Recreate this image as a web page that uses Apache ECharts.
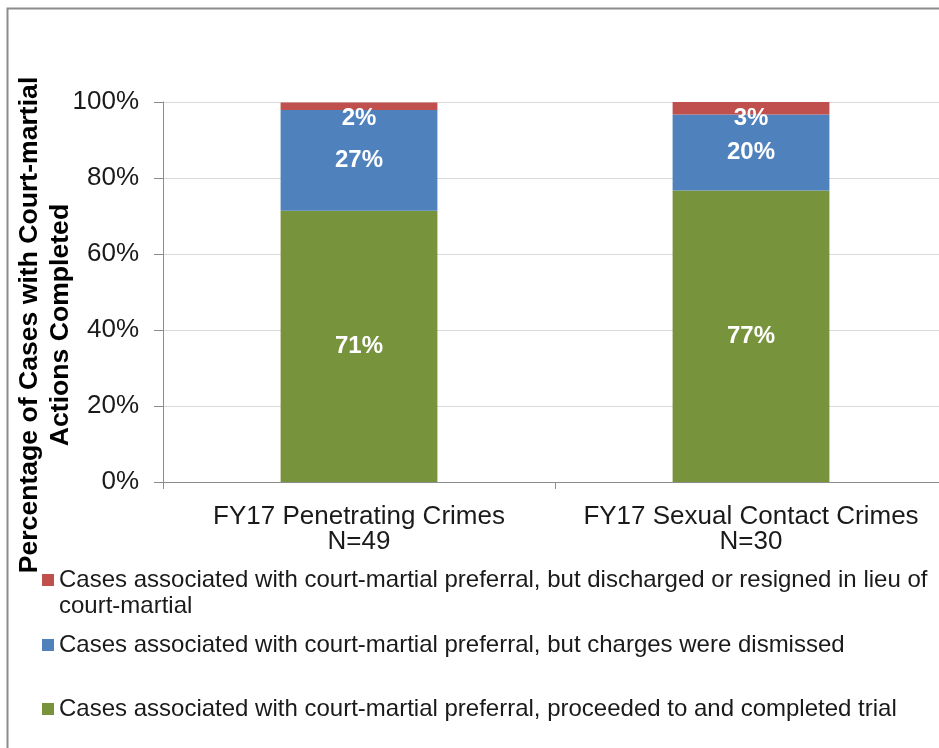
<!DOCTYPE html>
<html>
<head>
<meta charset="utf-8">
<script src="https://cdn.jsdelivr.net/npm/echarts@6/dist/echarts.min.js"></script>
<style>
html,body{margin:0;padding:0;background:#fff;overflow:hidden;width:939px;height:748px;}
#chart{width:960px;height:748px;}
</style>
</head>
<body>
<div id="chart"></div>
<script>
var categories = ['FY17 Penetrating Crimes\nN=49', 'FY17 Sexual Contact Crimes\nN=30'];
var seriesNames = [
  'Cases associated with court-martial preferral, but discharged or resigned in lieu of court-martial',
  'Cases associated with court-martial preferral, but charges were dismissed',
  'Cases associated with court-martial preferral, proceeded to and completed trial'
];
var discharged = [2.0, 3.3];
var dismissed = [26.5, 20.0];
var completed = [71.4, 76.7];
var yTicks = [0, 20, 40, 60, 80, 100];

var FONT = '"Liberation Sans", Arial, sans-serif';
var chart = echarts.init(document.getElementById('chart'));

function lbl(pos, dist) {
  return {
    show: true, position: pos, distance: dist,
    color: '#fff', fontFamily: FONT, fontWeight: 'bold', fontSize: 24,
    formatter: function (p) { return Math.round(p.value) + '%'; }
  };
}

function legendItem(name, top, extra) {
  var l = {
    data: [name], left: 42, top: top, orient: 'vertical', padding: 0,
    itemWidth: 12, itemHeight: 12, icon: 'rect', selectedMode: false,
    textStyle: {
      fontFamily: FONT, fontSize: 24, color: '#1a1a1a', lineHeight: 26,
      width: 878, overflow: 'break'
    }
  };
  if (extra) { for (var k in extra) l[k] = extra[k]; }
  return l;
}

var option = {
  animation: false,
  backgroundColor: '#fff',
  color: ['#C0504D', '#4F81BD', '#77933C'],
  graphic: [
    {
      type: 'rect', left: 5, top: 6, silent: true,
      shape: { width: 1200, height: 1200 },
      style: { fill: 'none', stroke: '#8c8c8c', lineWidth: 2 }
    },
    {
      type: 'text', x: 45, y: 325, rotation: Math.PI / 2, silent: true,
      style: {
        text: 'Percentage of Cases with Court-martial\nActions Completed',
        align: 'center', verticalAlign: 'middle',
        font: 'bold 26.6px ' + FONT, lineHeight: 31, fill: '#000'
      }
    }
  ],
  legend: [
    legendItem(seriesNames[0], 567, { itemHeight: 38, icon: 'path://M0,0H12V12H0Z M0,38L12,38' }),
    legendItem(seriesNames[1], 632),
    legendItem(seriesNames[2], 696)
  ],
  grid: { left: 163, top: 102, right: 13, height: 380, containLabel: false },
  xAxis: {
    type: 'category',
    data: categories,
    axisLine: { show: true, lineStyle: { color: '#8c8c8c', width: 1 } },
    axisTick: { show: true, length: 7, lineStyle: { color: '#8c8c8c' } },
    axisLabel: { fontFamily: FONT, fontSize: 26, color: '#1a1a1a', lineHeight: 25, margin: 22, interval: 0 }
  },
  yAxis: {
    type: 'value', min: 0, max: 100, interval: 20,
    axisLine: { show: true, lineStyle: { color: '#8c8c8c', width: 1 } },
    axisTick: { show: true, length: 9, lineStyle: { color: '#8c8c8c' } },
    splitLine: { show: true, lineStyle: { color: '#d9d9d9', width: 1 } },
    axisLabel: {
      fontFamily: FONT, fontSize: 26, color: '#1a1a1a', margin: 24,
      formatter: function (v) { return yTicks.indexOf(v) >= 0 ? v + '%' : ''; }
    }
  },
  series: [
    { name: seriesNames[2], type: 'bar', stack: 's', barWidth: '40%', data: completed,
      itemStyle: { color: '#77933C' }, label: lbl('inside', 0) },
    { name: seriesNames[1], type: 'bar', stack: 's', barWidth: '40%', data: dismissed,
      itemStyle: { color: '#4F81BD' }, label: lbl('inside', 0) },
    { name: seriesNames[0], type: 'bar', stack: 's', barWidth: '40%', data: discharged,
      itemStyle: { color: '#C0504D' }, label: lbl('insideTop', 4) }
  ]
};
chart.setOption(option);
</script>
</body>
</html>
